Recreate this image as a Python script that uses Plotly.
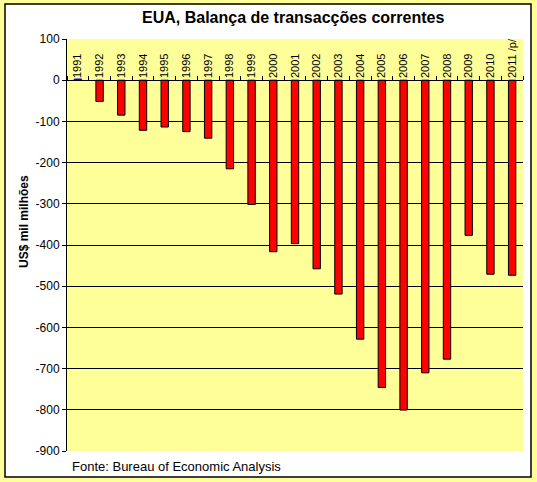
import plotly.graph_objects as go

W, H = 537, 482
L, R, T, B = 67, 14, 39, 31  # plot area margins in px

years = ['1991', '1992', '1993', '1994', '1995', '1996', '1997', '1998', '1999', '2000',
         '2001', '2002', '2003', '2004', '2005', '2006', '2007', '2008', '2009', '2010', '2011 /p/']
balance = [2.9, -51.6, -84.8, -121.6, -113.6, -124.8, -140.7, -215.1, -301.6, -416.3,
           -396.7, -457.8, -519.1, -628.5, -745.8, -800.6, -710.3, -677.1, -376.6, -470.9, -473.4]
y_ticks = [100, 0, -100, -200, -300, -400, -500, -600, -700, -800, -900]
y_range = [-900, 100]

pw, ph = W - L - R, H - T - B


def px_x(x):
    return (x - L) / pw


def px_y(y):
    return (H - B - y) / ph


colors = ['#0000FF' if v >= 0 else '#FF0000' for v in balance]
lines = ['#0000FF' if v >= 0 else '#000000' for v in balance]

fig = go.Figure()
fig.add_trace(go.Bar(
    x=years, y=balance,
    marker=dict(color=colors, line=dict(color=lines, width=1)),
    width=0.34,
    hoverinfo='x+y'
))

zero_pos = (0 - y_range[0]) / (y_range[1] - y_range[0])

# yellow outer border (thick line around the page edge)
fig.add_shape(type='rect', xref='paper', yref='paper',
              x0=px_x(0), x1=px_x(W), y0=px_y(H), y1=px_y(0),
              fillcolor='rgba(0,0,0,0)', line=dict(color='#FFFF99', width=10), layer='above')
# black frame of the chart box
fig.add_shape(type='rect', xref='paper', yref='paper',
              x0=px_x(5), x1=px_x(531), y0=px_y(477), y1=px_y(4),
              fillcolor='rgba(0,0,0,0)', line=dict(color='black', width=1.5), layer='above')

fig.update_layout(
    width=W, height=H,
    margin=dict(l=L, r=R, t=T, b=B),
    paper_bgcolor='white',
    plot_bgcolor='#FFFF99',
    font=dict(family='Liberation Sans, Arial', size=11, color='black'),
    showlegend=False,
    xaxis=dict(
        type='category', side='top', anchor='free', position=zero_pos,
        tickangle=-90, ticks='outside', ticklen=4, tickcolor='black',
        tickson='boundaries', showline=True, linecolor='black', linewidth=1,
        showgrid=False, tickfont=dict(size=11), zeroline=False, automargin=False
    ),
    yaxis=dict(
        range=y_range, tickvals=y_ticks, ticktext=[str(v) for v in y_ticks],
        ticks='outside', ticklen=4, tickcolor='black',
        showline=True, linecolor='black', linewidth=1,
        showgrid=True, gridcolor='black', gridwidth=1, zeroline=False,
        tickfont=dict(size=12), automargin=False
    ),
    annotations=[
        dict(text='<b>EUA, Balança de transacções correntes</b>', xref='paper', yref='paper',
             x=px_x(293), y=px_y(18), showarrow=False, font=dict(size=16),
             xanchor='center', yanchor='middle'),
        dict(text='<b>US$ mil milhões</b>', xref='paper', yref='paper',
             x=px_x(24), y=px_y(222), showarrow=False, font=dict(size=12),
             textangle=-90, xanchor='center', yanchor='middle'),
        dict(text='Fonte: Bureau of Economic Analysis', xref='paper', yref='paper',
             x=px_x(70), y=px_y(466), showarrow=False, font=dict(size=13),
             xanchor='left', yanchor='middle'),
    ]
)

# drop the default page margin so the figure starts at the window corner
fig.write_html("out.html", config={'displayModeBar': False},
               post_script="document.body.style.margin='0';")
